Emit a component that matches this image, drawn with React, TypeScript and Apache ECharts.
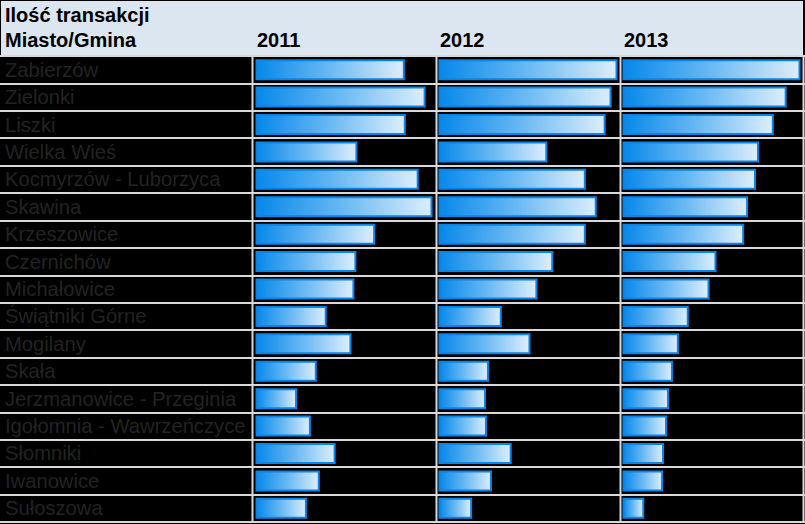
import React, { useEffect, useRef } from "react";
import * as echarts from "echarts";

const title = "Ilość transakcji";
const columnHeader = "Miasto/Gmina";
const years = ["2011", "2012", "2013"];
const cities = [
  "Zabierzów",
  "Zielonki",
  "Liszki",
  "Wielka Wieś",
  "Kocmyrzów - Luborzyca",
  "Skawina",
  "Krzeszowice",
  "Czernichów",
  "Michałowice",
  "Świątniki Górne",
  "Mogilany",
  "Skała",
  "Jerzmanowice - Przeginia",
  "Igołomnia - Wawrzeńczyce",
  "Słomniki",
  "Iwanowice",
  "Sułoszowa",
];
const values2011 = [151, 172, 152, 103, 165, 179, 121, 102, 100, 72, 97, 62, 42, 56, 81, 65, 52];
const values2012 = [181, 175, 169, 110, 149, 160, 149, 116, 100, 64, 93, 51, 48, 49, 74, 54, 34];
const values2013 = [180, 166, 153, 138, 135, 127, 123, 95, 88, 67, 57, 51, 47, 45, 42, 41, 22];
const seriesValues = [values2011, values2012, values2013];

const FONT = '"Liberation Sans", Arial, sans-serif';

export default function App() {
  const ref = useRef<HTMLDivElement>(null);
  useEffect(() => {
    document.body.style.margin = "0";
    const chart = echarts.init(ref.current!, null, { renderer: "svg" });
    const W = 805;
    const top = 56;
    const bodyH = 466;
    const colSep = [252.5, 436.5, 620.5, 803.5];
    const barStart = [255.5, 438.5, 622.5];
    const colW = 180;
    const maxV = 182;

    const grids: any[] = [{ left: 0, top, width: W, height: bodyH }];
    const xAxes: any[] = [{ gridIndex: 0, type: "value", show: false }];
    const yAxes: any[] = [
      {
        gridIndex: 0,
        type: "category",
        inverse: true,
        data: cities,
        axisLine: { show: false },
        axisTick: { show: false },
        splitLine: { show: true, lineStyle: { color: "#d9d9d9", width: 2 } },
        axisLabel: {
          inside: true,
          margin: 5,
          align: "left",
          fontFamily: FONT,
          fontSize: 20.2,
          color: "#232323",
          padding: [3, 0, 0, 0],
        },
      },
    ];
    const series: any[] = [];
    years.forEach((y, i) => {
      grids.push({ left: barStart[i], top, width: colW, height: bodyH });
      xAxes.push({ gridIndex: i + 1, type: "value", min: 0, max: maxV, show: false });
      yAxes.push({ gridIndex: i + 1, type: "category", inverse: true, data: cities, show: false });
      series.push({
        name: y,
        type: "bar",
        xAxisIndex: i + 1,
        yAxisIndex: i + 1,
        data: seriesValues[i],
        barWidth: 21,
        itemStyle: {
          color: new echarts.graphic.LinearGradient(0, 0, 1, 0, [
            { offset: 0, color: "#0788ea" },
            { offset: 0.5, color: "#6ab9f3" },
            { offset: 1, color: "#ddeefd" },
          ]),
          borderColor: "#0a84e6",
          borderWidth: 2,
        },
      });
    });

    const graphics: any[] = [
      { type: "rect", shape: { x: 1, y: 1, width: 802, height: 54 }, style: { fill: "#dce6f1" }, z: -10 },
      { type: "line", shape: { x1: 1, y1: 55.5, x2: 803, y2: 55.5 }, style: { stroke: "#9fb6cc", lineWidth: 1 } },
      {
        type: "text",
        x: 5,
        y: 24.5,
        style: { text: title, font: `bold 20px ${FONT}`, fill: "#000", textVerticalAlign: "bottom" },
      },
      {
        type: "text",
        x: 5,
        y: 49.5,
        style: { text: columnHeader, font: `bold 20px ${FONT}`, fill: "#000", textVerticalAlign: "bottom" },
      },
    ];
    years.forEach((y, i) => {
      graphics.push({
        type: "text",
        x: barStart[i] + 1.5,
        y: 49.5,
        style: { text: y, font: `bold 20px ${FONT}`, fill: "#000", textVerticalAlign: "bottom" },
      });
    });
    colSep.forEach((x) => {
      graphics.push({
        type: "line",
        shape: { x1: x, y1: top, x2: x, y2: top + bodyH },
        style: { stroke: "#d9d9d9", lineWidth: 2 },
        z: 10,
      });
    });

    chart.setOption({
      animation: false,
      backgroundColor: "#000",
      grid: grids,
      xAxis: xAxes,
      yAxis: yAxes,
      series,
      graphic: graphics,
    });
    return () => chart.dispose();
  }, []);
  return <div ref={ref} style={{ width: 805, height: 524 }} />;
}
